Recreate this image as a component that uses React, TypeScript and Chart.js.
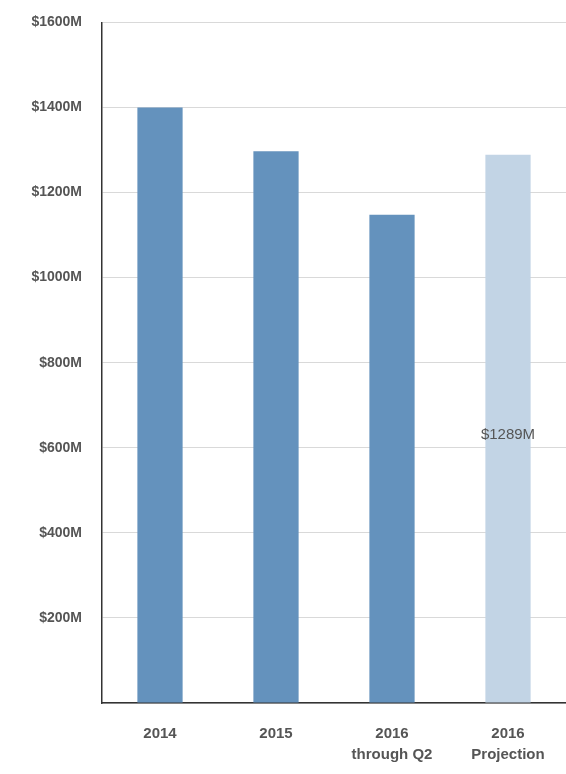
import { useEffect, useRef } from 'react';
import { Chart, registerables } from 'chart.js';

Chart.register(...registerables);

const categories = [['2014'], ['2015'], ['2016', 'through Q2'], ['2016', 'Projection']];
const values = [1400, 1297, 1148, 1289];
const barColors = ['#6492bd', '#6492bd', '#6492bd', '#c2d4e5'];
const projectionLabel = '$1289M';

const valueLabel = {
  id: 'valueLabel',
  afterDatasetsDraw(chart: Chart) {
    const bar = chart.getDatasetMeta(0).data[3] as any;
    const { ctx } = chart;
    ctx.save();
    ctx.font = '15px "Liberation Sans", Arial, sans-serif';
    ctx.fillStyle = '#555';
    ctx.textAlign = 'center';
    ctx.textBaseline = 'middle';
    ctx.fillText(projectionLabel, bar.x, chart.scales.y.getPixelForValue(630));
    ctx.restore();
  },
};

const App = () => {
  const canvasRef = useRef<HTMLCanvasElement | null>(null);

  useEffect(() => {
    document.body.style.margin = '0';
    document.body.style.overflow = 'hidden';
    if (!canvasRef.current) return;
    const chart = new Chart(canvasRef.current, {
      type: 'bar',
      data: {
        labels: categories,
        datasets: [{ data: values, backgroundColor: barColors, categoryPercentage: 1, barPercentage: 0.39 }],
      },
      options: {
        animation: false,
        responsive: false,
        layout: { padding: { top: 16, right: 0, left: 4, bottom: 0 } },
        plugins: { legend: { display: false }, tooltip: { enabled: false } },
        scales: {
          x: {
            afterFit: (scale) => {
              scale.height = 71;
            },
            grid: { display: false },
            border: { color: '#333', width: 1.5 },
            ticks: {
              color: '#555',
              font: { family: '"Liberation Sans", Arial, sans-serif', size: 15, weight: 'bold', lineHeight: 1.4 },
              padding: 12,
            },
          },
          y: {
            min: 0,
            max: 1600,
            afterFit: (scale) => {
              scale.width = 98;
            },
            ticks: {
              stepSize: 200,
              color: '#555',
              padding: 20,
              font: { family: '"Liberation Sans", Arial, sans-serif', size: 14, weight: 'bold' },
              callback: (v) => (v === 0 ? '' : `$${v}M`),
            },
            grid: { color: '#d9d9d9', tickLength: 0 },
            border: { color: '#333', width: 1.5 },
          },
        },
      },
      plugins: [valueLabel],
    });
    return () => chart.destroy();
  }, []);

  return <canvas ref={canvasRef} width={566} height={780} style={{ display: 'block', marginTop: -6 }} />;
};

export default App;
